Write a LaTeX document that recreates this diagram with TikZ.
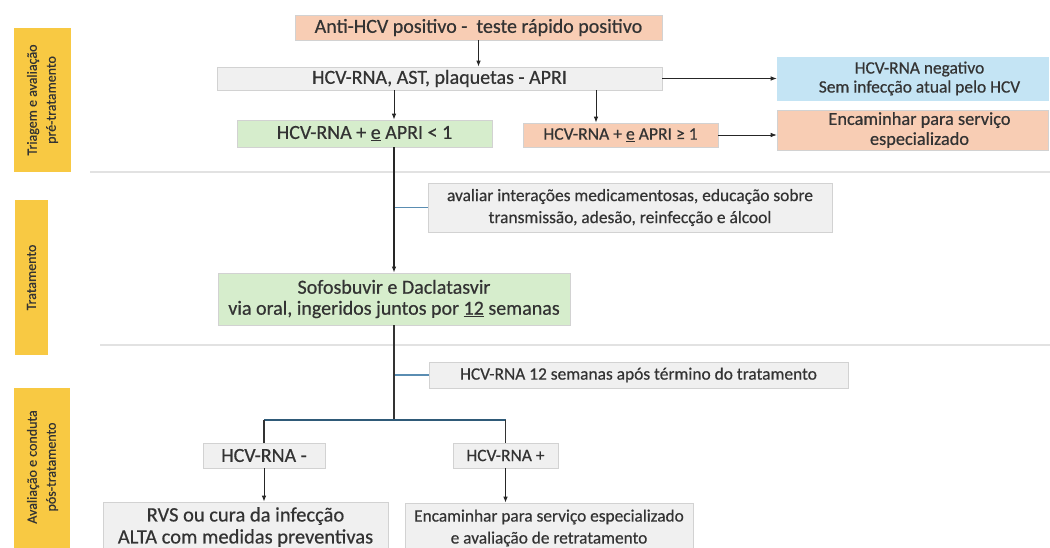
\documentclass[tikz,border=0pt]{standalone}
\usepackage{fontspec}
\setmainfont{Carlito}[FakeBold=0.5]
\usetikzlibrary{arrows.meta}
\definecolor{barY}{HTML}{F8C943}
\definecolor{salmon}{HTML}{F8CDB4}
\definecolor{grayF}{HTML}{F0F0F0}
\definecolor{greenF}{HTML}{D6EDCC}
\definecolor{blueF}{HTML}{C4E4F4}
\definecolor{edge}{HTML}{D2D2D2}
\definecolor{txt}{HTML}{333333}
\definecolor{steel}{HTML}{5A8DB2}
\definecolor{darkst}{HTML}{2F5A78}
\definecolor{sep}{HTML}{E2E2E2}
\newcommand{\fs}[2]{\fontsize{#1}{#2}\selectfont}
\tikzset{
  box/.style={draw=edge, line width=0.7pt, text=txt, align=center, inner sep=0pt},
  gbox/.style={box, fill=grayF},
  sbox/.style={box, fill=salmon},
  grbox/.style={box, fill=greenF},
  bbox/.style={box, fill=blueF},
  bar/.style={fill=barY, draw=none, inner sep=0pt},
  bartext/.style={rotate=90, text=txt, align=center, font=\fs{14}{19}},
  arr/.style={-{Latex[length=6pt,width=4.5pt]}, line width=0.9pt, draw=black!85},
  trunk/.style={line width=1.4pt, draw=black!80},
  branch/.style={line width=1.2pt, draw=steel},
  sepline/.style={line width=1.6pt, draw=sep}
}
\begin{document}
\begin{tikzpicture}[x=1pt,y=-1pt]
\useasboundingbox (0,0) rectangle (1050,548);
\clip (0,0) rectangle (1050,548);
\fill[white] (0,0) rectangle (1050,548);

% side bars
\node[bar, minimum width=57pt, minimum height=144pt] (b1) at (42.5,100) {};
\node[bartext] (b1t) at (b1.center) {Triagem e avaliação\\pré-tratamento};
\node[bar, minimum width=33pt, minimum height=155pt] (b2) at (31.5,277.5) {};
\node[bartext] (b2t) at (b2.center) {Tratamento};
\node[bar, minimum width=56pt, minimum height=180pt] (b3) at (42,478) {};
\node[bartext] (b3t) at (42.5,467) {Avaliação e conduta\\pós-tratamento};

% separators
\coordinate (s1a) at (90,172);
\coordinate (s1b) at (1050,172);
\coordinate (s2a) at (100,345);
\coordinate (s2b) at (1050,345);
\draw[sepline] (s1a) -- (s1b);
\draw[sepline] (s2a) -- (s2b);

% boxes
\node[sbox, minimum width=367pt, minimum height=25pt, font=\fs{20}{22}] (anti) at (478.5,27.5) {Anti-HCV positivo -\ \ teste rápido positivo};
\node[gbox, minimum width=445pt, minimum height=23pt, font=\fs{20}{22}] (apri) at (439.5,78.5) {HCV-RNA, AST, plaquetas - APRI};
\node[grbox, minimum width=255pt, minimum height=27pt, font=\fs{20}{22}] (ok) at (364.5,133.5) {HCV-RNA + \underline{e} APRI < 1};
\node[sbox, minimum width=195pt, minimum height=24pt, font=\fs{17.6}{20}] (high) at (620.5,135) {HCV-RNA + \underline{e} APRI ≥ 1};
\node[bbox, draw=blueF, minimum width=271pt, minimum height=43pt, font=\fs{17.4}{19}] (neg) at (912.5,78.5) {\hspace*{14pt}HCV-RNA negativo\\\hspace*{14pt}Sem infecção atual pelo HCV};
\node[sbox, minimum width=271pt, minimum height=40pt, font=\fs{18.3}{20}] (enc1) at (912.5,130) {\hspace*{14pt}Encaminhar para serviço\\\hspace*{14pt}especializado};
\node[gbox, minimum width=404pt, minimum height=49pt, font=\fs{17.4}{22}] (aval) at (630,207.5) {avaliar interações medicamentosas, educação sobre\\transmissão, adesão, reinfecção e álcool};
\node[grbox, minimum width=352pt, minimum height=52pt, font=\fs{20}{21}] (sof) at (394,299) {Sofosbuvir e Daclatasvir\\via oral, ingeridos juntos por \underline{12} semanas};
\node[gbox, minimum width=419pt, minimum height=26pt, font=\fs{17.4}{20}] (rna12) at (638.5,375) {HCV-RNA 12 semanas após término do tratamento};
\node[gbox, minimum width=122pt, minimum height=25pt, font=\fs{20}{22}] (minus) at (264,455.5) {HCV-RNA -};
\node[gbox, minimum width=105pt, minimum height=25pt, font=\fs{17.5}{20}] (plus) at (505.5,455.5) {HCV-RNA +};
\node[gbox, minimum width=285pt, minimum height=50pt, font=\fs{20.5}{22}] (rvs) at (245.5,527) {RVS ou cura da infecção\\ALTA com medidas preventivas};
\node[gbox, minimum width=288pt, minimum height=50pt, font=\fs{17.3}{22}] (enc2) at (549,528) {Encaminhar para serviço especializado\\e avaliação de retratamento};

% helper x positions
\coordinate (tx) at (394,0);
\coordinate (hx) at (596,0);
\coordinate (br) at (394,420);

% connectors
\draw[arr] (anti.south) -- (anti.south |- apri.north);
\draw[arr] (apri.south -| tx) -- (ok.north -| tx);
\draw[arr] (apri.south -| hx) -- (high.north -| hx);
\draw[arr, line width=0.7pt] (apri.east) -- (neg.west);
\draw[arr, line width=0.7pt] (high.east) -- (high.east -| enc1.west);
\draw[branch] (tx |- aval.west) -- (aval.west);
\draw[arr, line width=1.3pt] (ok.south -| tx) -- (sof.north -| tx);
\draw[branch] (tx |- rna12.west) -- (rna12.west);
\draw[trunk] (sof.south -| tx) -- (br);
\draw[line width=1.4pt, draw=darkst] (minus.north |- br) -- (plus.north |- br);
\draw[trunk] (minus.north |- br) -- (minus.north);
\draw[trunk] (plus.north |- br) -- (plus.north);
\draw[arr] (minus.south) -- (minus.south |- rvs.north);
\draw[arr] (plus.south) -- (plus.south |- enc2.north);
\end{tikzpicture}
\end{document}
